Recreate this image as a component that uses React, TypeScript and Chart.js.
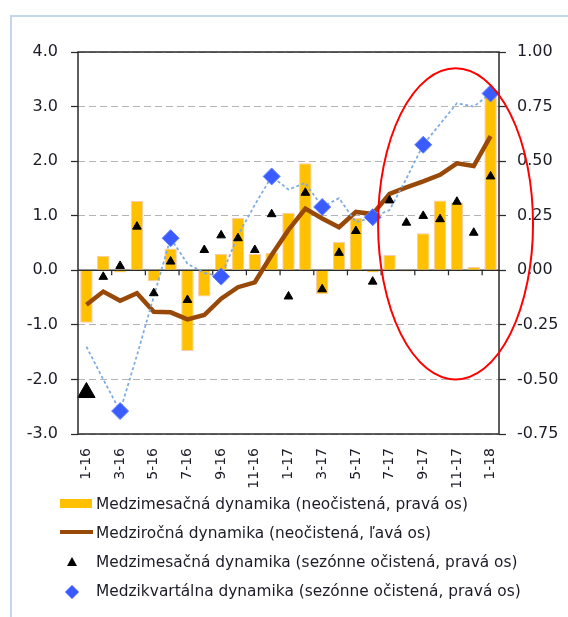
import React, { useEffect, useRef } from 'react';
import { Chart, registerables } from 'chart.js';

Chart.register(...registerables);

// ---- data ----
const months = [
  '1-16', '2-16', '3-16', '4-16', '5-16', '6-16', '7-16', '8-16', '9-16', '10-16', '11-16', '12-16',
  '1-17', '2-17', '3-17', '4-17', '5-17', '6-17', '7-17', '8-17', '9-17', '10-17', '11-17', '12-17',
  '1-18',
];
// Medzimesačná dynamika (neočistená) – right axis, bars
const momRaw = [
  -0.24, 0.067, -0.01, 0.317, -0.05, 0.10, -0.37, -0.12, 0.075, 0.24, 0.075, 0.08,
  0.264, 0.49, -0.11, 0.13, 0.24, -0.01, 0.07, -0.005, 0.17, 0.32, 0.31, 0.015,
  0.80,
];
// Medziročná dynamika (neočistená) – left axis, line
const yoyRaw = [
  -0.63, -0.39, -0.56, -0.42, -0.76, -0.77, -0.90, -0.82, -0.52, -0.31, -0.22, 0.28,
  0.74, 1.13, 0.95, 0.79, 1.07, 1.03, 1.40, 1.52, 1.63, 1.75, 1.96, 1.91,
  2.46,
];
// Medzimesačná dynamika (sezónne očistená) – right axis, triangles
const momSa = [
  -0.56, -0.03, 0.02, 0.20, -0.105, 0.04, -0.136, 0.093, 0.16, 0.147, 0.093, 0.257,
  -0.12, 0.355, -0.087, 0.08, 0.18, -0.052, 0.32, 0.218, 0.249, 0.234, 0.314, 0.172,
  0.43,
];
// Medzikvartálna dynamika (sezónne očistená) – right axis, dotted line with diamonds
const qoqSa = [
  -0.35, -0.50, -0.645, -0.39, -0.12, 0.147, 0.03, -0.012, -0.029, 0.16, 0.30, 0.43,
  0.37, 0.40, 0.29, 0.33, 0.22, 0.243, 0.276, 0.42, 0.575, 0.67, 0.765, 0.75,
  0.81,
];
const qoqMarkerIdx = [2, 5, 8, 11, 14, 17, 20, 24];

const leftTicks = { min: -3, max: 4, step: 1 };
const rightTicks = { min: -0.75, max: 1, step: 0.25 };

const legendLabels = [
  'Medzimesačná dynamika (neočistená, pravá os)',
  'Medziročná dynamika (neočistená, ľavá os)',
  'Medzimesačná dynamika (sezónne očistená, pravá os)',
  'Medzikvartálna dynamika (sezónne očistená, pravá os)',
];

const FONT = 'DejaVu Sans';
const TEXT = '#1c1c28';
const AXIS = '#2a2a2a';

const decorPlugin = {
  id: 'decor',
  beforeDatasetsDraw(chart: any) {
    const { ctx, chartArea: a, scales } = chart;
    const y0 = scales.yL.getPixelForValue(0);
    ctx.save();
    ctx.strokeStyle = AXIS;
    ctx.lineWidth = 1.5;
    ctx.beginPath();
    ctx.moveTo(a.left, y0);
    ctx.lineTo(a.right, y0);
    ctx.stroke();
    const x = scales.x;
    ctx.lineWidth = 1.25;
    for (let i = 2; i < months.length; i += 2) {
      const px = (x.getPixelForValue(i - 1) + x.getPixelForValue(i)) / 2;
      ctx.beginPath();
      ctx.moveTo(px, y0);
      ctx.lineTo(px, y0 + 5);
      ctx.stroke();
    }
    ctx.restore();
  },
  afterDatasetsDraw(chart: any) {
    const { ctx, chartArea: a, scales } = chart;
    ctx.save();
    ctx.strokeStyle = AXIS;
    ctx.lineWidth = 1.5;
    ctx.strokeRect(a.left, a.top, a.right - a.left, a.bottom - a.top);
    // highlight ellipse
    const x = scales.x;
    const yR = scales.yR;
    const cw = x.getPixelForValue(1) - x.getPixelForValue(0);
    const cx = x.getPixelForValue(21.92);
    const cy = yR.getPixelForValue(0.2126);
    const rx = cw * 4.6;
    const ry = Math.abs(yR.getPixelForValue(0.925) - cy);
    ctx.strokeStyle = '#ff0000';
    ctx.lineWidth = 2;
    ctx.beginPath();
    ctx.ellipse(cx, cy, rx, ry, 0, 0, Math.PI * 2);
    ctx.stroke();
    ctx.restore();
  },
};

export default function App() {
  const ref = useRef<HTMLCanvasElement>(null);

  useEffect(() => {
    const canvas = ref.current;
    if (!canvas) return;
    const markerRadius = qoqSa.map((_, i) => (qoqMarkerIdx.includes(i) ? 8.5 : 0));
    const triRadius = momSa.map((_, i) => (i === 0 ? 10 : 5));
    const chart = new Chart(canvas, {
      type: 'bar',
      data: {
        labels: months,
        datasets: [
          {
            type: 'bar',
            label: legendLabels[0],
            data: momRaw,
            yAxisID: 'yR',
            backgroundColor: '#ffc000',
            borderColor: '#f8cbad',
            borderWidth: 1,
            barPercentage: 0.74,
            categoryPercentage: 1,
            order: 10,
          },
          {
            type: 'line',
            label: legendLabels[1],
            data: yoyRaw,
            yAxisID: 'yL',
            borderColor: '#984807',
            borderWidth: 4.5,
            pointRadius: 0,
            tension: 0,
            order: 6,
          },
          {
            type: 'line',
            label: legendLabels[3],
            data: qoqSa,
            yAxisID: 'yR',
            borderColor: '#7eaae2',
            borderWidth: 1.75,
            borderDash: [3, 2.5],
            pointStyle: 'rectRot',
            pointRadius: markerRadius,
            pointBackgroundColor: '#3a5cff',
            pointBorderColor: '#6482ff',
            pointBorderWidth: 1,
            tension: 0,
            order: 4,
          },
          {
            type: 'line',
            label: legendLabels[2],
            data: momSa,
            yAxisID: 'yR',
            showLine: false,
            pointStyle: 'triangle',
            pointRadius: triRadius,
            pointBackgroundColor: '#000000',
            pointBorderColor: '#000000',
            pointBorderWidth: 1,
            order: 2,
          },
        ] as any,
      },
      options: {
        animation: false,
        responsive: false,
        maintainAspectRatio: false,
        layout: { padding: { top: 52, left: 0, right: 0, bottom: 123 } },
        plugins: {
          legend: { display: false },
          tooltip: { enabled: false },
        },
        scales: {
          x: {
            offset: true,
            grid: { display: false, drawTicks: false },
            border: { display: false },
            ticks: {
              autoSkip: false,
              maxRotation: 90,
              minRotation: 90,
              padding: 14,
              color: TEXT,
              font: { family: FONT, size: 14 },
              callback: (_v: any, i: number) => (i % 2 === 0 ? months[i] : null),
            },
            afterFit: (s: any) => { s.height = 60; },
          },
          yL: {
            position: 'left',
            min: leftTicks.min,
            max: leftTicks.max,
            grid: {
              color: (c: any) => (c.tick && c.tick.value === 0 ? 'rgba(0,0,0,0)' : '#b4b4b4'),
              lineWidth: 1,
              drawTicks: true,
              tickLength: 7,
              tickColor: AXIS,
              tickWidth: 1.25,
            },
            border: { display: false, dash: [7, 4] },
            ticks: {
              stepSize: leftTicks.step,
              padding: 13,
              color: TEXT,
              font: { family: FONT, size: 16 },
              callback: (v: any) => Number(v).toFixed(1),
            },
            afterFit: (s: any) => { s.width = 78; },
          },
          yR: {
            position: 'right',
            min: rightTicks.min,
            max: rightTicks.max,
            grid: {
              drawOnChartArea: false,
              drawTicks: true,
              tickLength: 7,
              tickColor: AXIS,
              tickWidth: 1.25,
            },
            border: { display: false },
            ticks: {
              stepSize: rightTicks.step,
              padding: 11,
              color: TEXT,
              font: { family: FONT, size: 16 },
              callback: (v: any) => Number(v).toFixed(2),
            },
            afterFit: (s: any) => { s.width = 69; },
          },
        },
      } as any,
      plugins: [decorPlugin],
    });
    return () => chart.destroy();
  }, []);

  const textStyle: React.CSSProperties = {
    position: 'absolute',
    left: 96,
    fontFamily: FONT,
    fontSize: 15.4,
    lineHeight: '20px',
    color: TEXT,
    whiteSpace: 'nowrap',
  };

  return (
    <div style={{ position: 'absolute', left: 0, top: 0, width: 568, height: 617, background: '#fff', overflow: 'hidden' }}>
      <div style={{ position: 'absolute', left: 10, top: 15, right: -4, bottom: -4, borderLeft: '2px solid #c4d5ec', borderTop: '2px solid #c4d5ec' }} />
      <canvas ref={ref} width={568} height={617} style={{ position: 'absolute', left: 0, top: 0, width: 568, height: 617 }} />
      {/* legend */}
      <div style={{ position: 'absolute', left: 60, top: 499, width: 32, height: 9, background: '#ffc000' }} />
      <div style={{ ...textStyle, top: 494 }}>{legendLabels[0]}</div>
      <div style={{ position: 'absolute', left: 60, top: 530, width: 33, height: 4, background: '#984807' }} />
      <div style={{ ...textStyle, top: 522.5 }}>{legendLabels[1]}</div>
      <svg style={{ position: 'absolute', left: 66, top: 556 }} width={12} height={11}>
        <polygon points="6,1 11,10 1,10" fill="#000" />
      </svg>
      <div style={{ ...textStyle, top: 552 }}>{legendLabels[2]}</div>
      <svg style={{ position: 'absolute', left: 65, top: 585 }} width={14} height={14}>
        <polygon points="7,0 14,7 7,14 0,7" fill="#3a5cff" />
      </svg>
      <div style={{ ...textStyle, top: 581 }}>{legendLabels[3]}</div>
    </div>
  );
}
